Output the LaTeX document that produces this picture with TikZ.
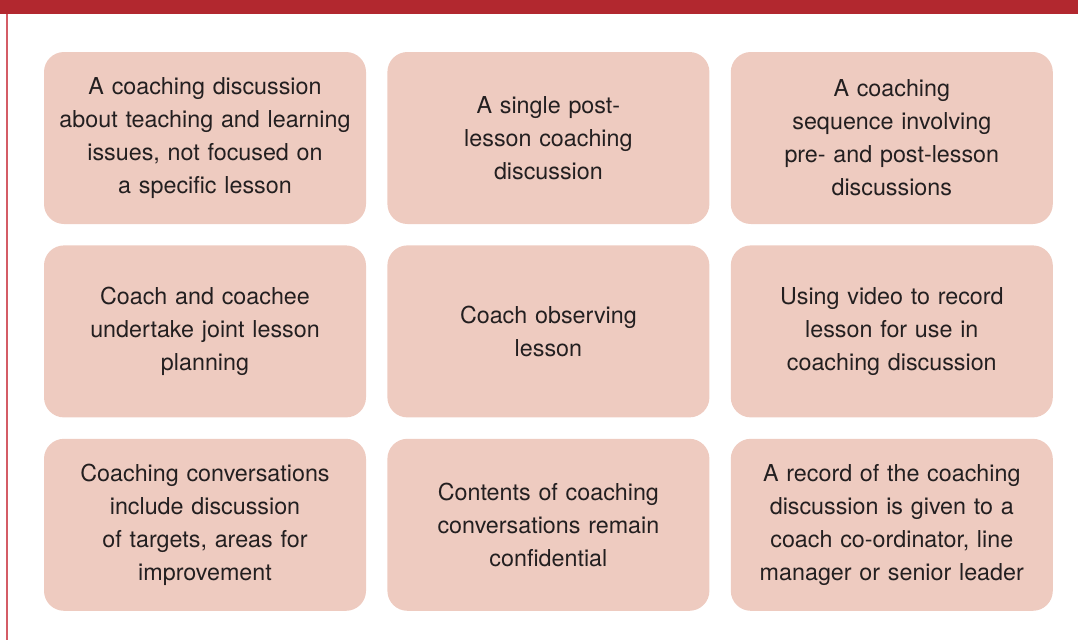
\documentclass[tikz,border=0pt]{standalone}
\usepackage{fontspec}
\setmainfont{TeX Gyre Heros}
\usepackage{xcolor}
\usetikzlibrary{positioning}
\definecolor{barred}{HTML}{B2282F}
\definecolor{edgered}{HTML}{D45C66}
\definecolor{cardfill}{HTML}{EECBC0}
\definecolor{cardtext}{HTML}{231F20}
\tikzset{card/.style={fill=cardfill, rounded corners=20pt, minimum width=322pt, minimum height=172pt, text width=312pt, align=center, text=cardtext, font=\fontsize{23.3}{33}\selectfont, inner sep=0pt}}

\begin{document}
\begin{tikzpicture}[x=1pt, y=-1pt]
        \useasboundingbox (0,0) rectangle (1078,640);
        \fill[barred] (0,0) rectangle (1078,14);
        \draw[edgered, line width=2pt] (6.7,14) -- (6.7,640);
        % row 1
        \node[card] (ra) at (205,138) {A coaching discussion\\about teaching and learning\\issues, not focused on\\a specific lesson};
        \node[card, right=21pt of ra] (rb) {A single post-\\lesson coaching\\discussion};
        \node[card, right=21pt of rb] (rc) {A coaching\\sequence involving\\pre- and post-lesson\\discussions};
        % row 2
        \node[card, below=21pt of ra] (sa) {Coach and coachee\\undertake joint lesson\\planning};
        \node[card, right=21pt of sa] (sb) {Coach observing\\lesson};
        \node[card, right=21pt of sb] (sc) {Using video to record\\lesson for use in\\coaching discussion};
        % row 3
        \node[card, below=21pt of sa] (ta) {Coaching conversations\\include discussion\\of targets, areas for\\improvement};
        \node[card, right=21pt of ta] (tb) {Contents of coaching\\conversations remain\\confidential};
        \node[card, right=21pt of tb] (tc) {A record of the coaching\\discussion is given to a\\coach co-ordinator, line\\manager or senior leader};
\end{tikzpicture}
\end{document}
